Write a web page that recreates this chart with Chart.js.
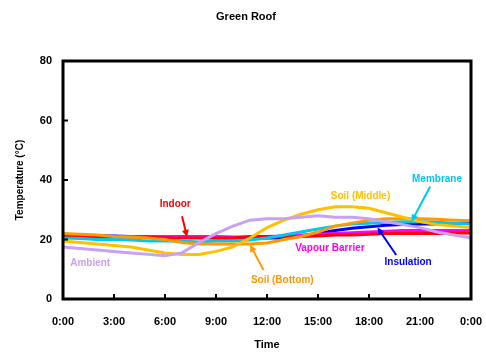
<!DOCTYPE html>
<html>
<head>
<meta charset="utf-8">
<script src="https://cdn.jsdelivr.net/npm/chart.js@4"></script>
<style>
  html, body { margin: 0; padding: 0; background: #fff; }
  #wrap { width: 486px; height: 352px; }
</style>
</head>
<body>
<div id="wrap"><canvas id="roof"></canvas></div>
<script>
// hours of the day, 0 .. 24
const hours = [0,1,2,3,4,5,6,7,8,9,10,11,12,13,14,15,16,17,18,19,20,21,22,23,24];
const xTicks = [0,3,6,9,12,15,18,21,24];
const yTicks = [0,20,40,60,80];

const ambient    = [17.5,17,16.5,16,15.5,15,14.5,15.5,19,22,24.5,26.5,27,27,27.5,28,27.5,27.5,27,26,25,24,22.5,21.5,20.5];
const soilMiddle = [19.5,19,18.5,18,17.5,16.5,15.5,15,15,16,17.5,20.5,24,26.5,28.5,30,31,31,30.5,29,27.5,26,25,24.5,24];
const soilBottom = [22,21.8,21.5,21,20.8,20.5,20,19,18.5,18.5,18.5,18.5,18.8,20,21,22.5,24.5,25.5,26.5,27,27,27,26.8,26.5,26.3];
const membrane   = [20.5,20.3,20,20,19.8,19.5,19.5,19.5,19.2,19.5,19.5,19.8,20.5,21.5,22.5,23.5,24.5,25.2,25.5,25.8,26,26,25.8,25.5,25.2];
const insulation = [21.5,21.5,21.3,21.2,21,21,20.8,20.8,20.8,20.5,20.5,20.5,20.5,20.5,21,22,23,23.8,24.3,24.8,25,25.2,25.2,25.3,25.5];
const vapour     = [21,21,21,21,21,21,21,21,21,21,20.8,20.8,21,21.2,21.5,21.8,22,22.3,22.5,22.8,23,23,23,23,23];
const indoor     = [21,21,21,20.8,20.8,20.8,20.5,20.5,20.5,20.5,20.5,21,21,21,21,21.2,21.5,21.5,21.8,22,22,22,22,22.2,22.2];

// text label: [text, x, y, colour, arrow from (x,y) to (x,y) or null]
const callouts = [
  ['Indoor', 6.6, 31.9, '#ff0000', [7.0, 27.8, 7.3, 20.8]],
  ['Soil (Middle)', 17.5, 34.6, '#ffc000', null],
  ['Membrane', 22.0, 40.3, '#00c8f0', [21.6, 37.8, 20.5, 26.0]],
  ['Vapour Barrier', 15.7, 17.1, '#ff00ff', null],
  ['Insulation', 20.3, 12.4, '#0000ff', [19.6, 14.8, 18.5, 24.0]],
  ['Soil (Bottom)', 12.9, 6.4, '#ff9900', [11.8, 9.7, 11.0, 18.2]],
  ['Ambient', 1.6, 12.1, '#c8a0f8', null]
];

const font = 'Liberation Sans, Arial, sans-serif';

function pts(vals) {
  return hours.map((h, i) => ({x: h, y: vals[i]}));
}

const frame = {
  id: 'frame',
  afterDatasetsDraw(chart) {
    const ctx = chart.ctx, a = chart.chartArea;
    const xs = chart.scales.x, ys = chart.scales.y;
    ctx.save();
    ctx.strokeStyle = '#000';
    ctx.lineWidth = 3;
    ctx.strokeRect(a.left, a.top, a.right - a.left, a.bottom - a.top);
    ctx.lineWidth = 2;
    ctx.beginPath();
    xTicks.slice(1, -1).forEach(t => {
      const px = xs.getPixelForValue(t);
      ctx.moveTo(px, a.bottom); ctx.lineTo(px, a.bottom - 5);
    });
    yTicks.slice(1, -1).forEach(t => {
      const py = ys.getPixelForValue(t);
      ctx.moveTo(a.left, py); ctx.lineTo(a.left + 5, py);
    });
    ctx.stroke();

    ctx.font = 'bold 10px ' + font;
    ctx.textAlign = 'center';
    ctx.textBaseline = 'middle';
    callouts.forEach(([txt, x, y, col, arr]) => {
      ctx.fillStyle = col;
      ctx.fillText(txt, xs.getPixelForValue(x), ys.getPixelForValue(y));
      if (arr) {
        const x1 = xs.getPixelForValue(arr[0]), y1 = ys.getPixelForValue(arr[1]);
        const x2 = xs.getPixelForValue(arr[2]), y2 = ys.getPixelForValue(arr[3]);
        const ang = Math.atan2(y2 - y1, x2 - x1);
        ctx.strokeStyle = col;
        ctx.lineWidth = 2;
        ctx.beginPath();
        ctx.moveTo(x1, y1); ctx.lineTo(x2 - 5 * Math.cos(ang), y2 - 5 * Math.sin(ang));
        ctx.stroke();
        ctx.beginPath();
        ctx.moveTo(x2, y2);
        ctx.lineTo(x2 - 8 * Math.cos(ang - 0.45), y2 - 8 * Math.sin(ang - 0.45));
        ctx.lineTo(x2 - 8 * Math.cos(ang + 0.45), y2 - 8 * Math.sin(ang + 0.45));
        ctx.closePath();
        ctx.fill();
      }
    });

    ctx.fillStyle = '#000';
    ctx.font = 'bold 11px ' + font;
    ctx.fillText('Green Roof', 246, 17);
    ctx.restore();
  }
};

function line(label, data, color) {
  return {label, data: pts(data), borderColor: color, backgroundColor: color,
          borderWidth: 3, pointRadius: 0, tension: 0, fill: false};
}

new Chart(document.getElementById('roof'), {
  type: 'line',
  data: {
    datasets: [
      line('Ambient', ambient, '#c8a0f8'),
      line('Soil (Middle)', soilMiddle, '#ffc000'),
      line('Soil (Bottom)', soilBottom, '#ff9900'),
      line('Membrane', membrane, '#00c8f0'),
      line('Indoor', indoor, '#ff0000'),
      line('Vapour Barrier', vapour, '#ff00ff'),
      line('Insulation', insulation, '#0000ff')
    ]
  },
  options: {
    responsive: true,
    maintainAspectRatio: false,
    animation: false,
    layout: {padding: {top: 61, right: 15, bottom: 0, left: 0}},
    plugins: {legend: {display: false}, tooltip: {enabled: false}},
    scales: {
      x: {
        type: 'linear', min: 0, max: 24,
        afterBuildTicks: s => { s.ticks = xTicks.map(v => ({value: v})); },
        afterFit: s => { s.height = 53; s.paddingRight = 0; s.paddingLeft = 0; },
        grid: {display: false, drawTicks: false},
        border: {display: false},
        ticks: {
          padding: 16, color: '#000', maxRotation: 0, autoSkip: false,
          font: {family: font, size: 11, weight: 'bold'},
          callback: v => (v % 24) + ':00'
        },
        title: {display: true, text: 'Time', color: '#000', padding: 0,
                font: {family: font, size: 11, weight: 'bold'}}
      },
      y: {
        min: 0, max: 80,
        afterBuildTicks: s => { s.ticks = yTicks.map(v => ({value: v})); },
        afterFit: s => { s.width = 63; },
        grid: {display: false, drawTicks: false},
        border: {display: false},
        ticks: {padding: 11, color: '#000', font: {family: font, size: 11, weight: 'bold'}},
        title: {display: true, text: 'Temperature (°C)', color: '#000', padding: {top: 14},
                font: {family: font, size: 10, weight: 'bold'}}
      }
    }
  },
  plugins: [frame]
});
</script>
</body>
</html>
